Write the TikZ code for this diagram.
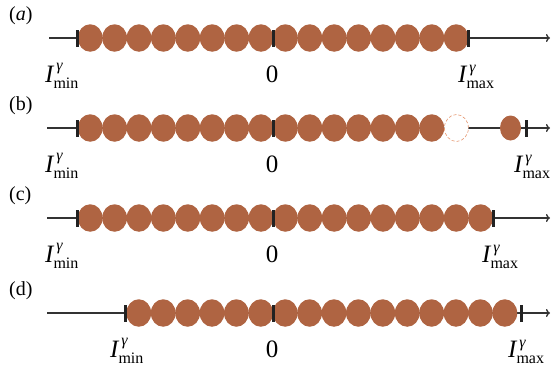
\documentclass[tikz,border=0pt]{standalone}
\usepackage{amsmath}
\usepackage{fontspec}
\setmainfont{Liberation Serif}
\usetikzlibrary{shapes.geometric,arrows.meta}

\definecolor{beadfill}{RGB}{175,100,66}
\definecolor{beadedge}{RGB}{230,150,110}
\definecolor{axisgray}{RGB}{51,51,51}
\definecolor{tickgray}{RGB}{34,34,34}

% I^gamma with a min/max subscript, set in the text serif
\newcommand{\scr}{\fontsize{16}{16}\selectfont}
\newcommand{\Ilab}[1]{$\textit{I}^{\,\text{\scr\itshape γ}}_{\text{\scr #1}}$}

\tikzset{
  bead/.style={ellipse, fill=beadfill, inner sep=0pt, minimum width=24.8pt, minimum height=27.5pt},
  hole/.style={ellipse, draw=beadedge, densely dashed, line width=0.6pt, fill=white, inner sep=0pt, minimum width=24pt, minimum height=27pt},
  lone/.style={bead, minimum width=21pt, minimum height=25pt},
  axisline/.style={draw=axisgray, line width=1.3pt, -{To[length=4pt,width=8pt]}},
  tickmark/.style={fill=tickgray, inner sep=0pt, minimum width=3pt, minimum height=17pt},
  rowlab/.style={anchor=base west, font=\fontsize{20}{22}\selectfont, inner sep=0pt},
  zerolab/.style={anchor=base, font=\fontsize{25}{30}\selectfont, inner sep=0pt},
  ilab/.style={anchor=base west, font=\fontsize{25}{30}\selectfont, inner sep=0pt}
}

\begin{document}
\begin{tikzpicture}[x=1pt, y=-1pt]
\useasboundingbox (0,0) rectangle (551,368);

% ---------- row (a) ----------
\node[rowlab] (la) at (9,20) {(\textit{a})};
\coordinate (aS) at (49,38);
\coordinate (aE) at (550,38);
\draw[axisline] (aS) -- (aE);
\foreach \i in {0,...,15} \node[bead] (a\i) at ({90.2+24.4*\i},38) {};
\node[tickmark] (aL) at (77,38) {};
\node[tickmark] (aM) at (273,38) {};
\node[tickmark] (aR) at (468.5,38) {};
\node[ilab] (aMin) at (45,82) {\Ilab{min}};
\node[zerolab] (aZero) at (272,82) {0};
\node[ilab] (aMax) at (458,82) {\Ilab{max}};

% ---------- row (b) ----------
\node[rowlab] (lb) at (9,110) {(b)};
\coordinate (bS) at (47,128);
\coordinate (bE) at (550,128);
\draw[axisline] (bS) -- (bE);
\foreach \i in {0,...,14} \node[bead] (b\i) at ({90.2+24.4*\i},128) {};
\node[hole] (bGap) at (456.4,128) {};
\node[lone] (bOut) at (510.5,128) {};
\node[tickmark] (bL) at (77,128) {};
\node[tickmark] (bM) at (273,128) {};
\node[tickmark] (bR) at (526,128) {};
\node[ilab] (bMin) at (45,172) {\Ilab{min}};
\node[zerolab] (bZero) at (272,172) {0};
\node[ilab] (bMax) at (514,172) {\Ilab{max}};

% ---------- row (c) ----------
\node[rowlab] (lc) at (9,200) {(c)};
\coordinate (cS) at (47,218);
\coordinate (cE) at (550,218);
\draw[axisline] (cS) -- (cE);
\foreach \i in {0,...,16} \node[bead] (c\i) at ({90.2+24.4*\i},218) {};
\node[tickmark] (cL) at (77,218) {};
\node[tickmark] (cM) at (273,218) {};
\node[tickmark] (cR) at (493,218) {};
\node[ilab] (cMin) at (45,262) {\Ilab{min}};
\node[zerolab] (cZero) at (272,262) {0};
\node[ilab] (cMax) at (482,262) {\Ilab{max}};

% ---------- row (d) ----------
\node[rowlab] (ld) at (9,295) {(d)};
\coordinate (dS) at (47,313);
\coordinate (dE) at (550,313);
\draw[axisline] (dS) -- (dE);
\foreach \i in {0,...,15} \node[bead] (d\i) at ({138.8+24.4*\i},313) {};
\node[tickmark] (dL) at (125,313) {};
\node[tickmark] (dM) at (273,313) {};
\node[tickmark] (dR) at (521.5,313) {};
\node[ilab] (dMin) at (110,357) {\Ilab{min}};
\node[zerolab] (dZero) at (272,357) {0};
\node[ilab] (dMax) at (508,357) {\Ilab{max}};
\end{tikzpicture}
\end{document}
